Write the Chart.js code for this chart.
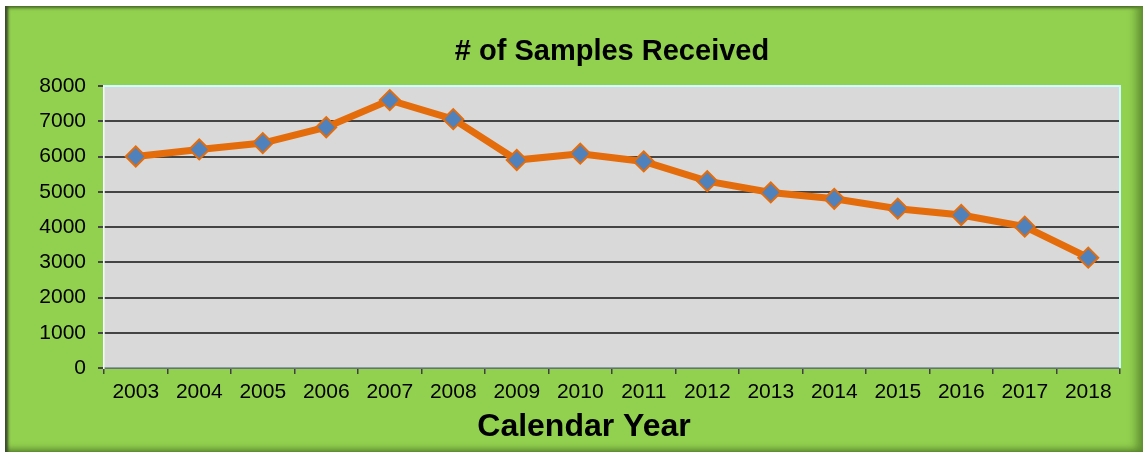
<!DOCTYPE html>
<html>
<head>
<meta charset="utf-8">
<script src="https://cdn.jsdelivr.net/npm/chart.js@4"></script>
<style>
    html, body { margin: 0; padding: 0; background: #fff; }
    body { width: 1143px; height: 452px; position: relative; overflow: hidden; }
    #panel {
        position: absolute; left: 5px; top: 6px; width: 1138px; height: 446px;
        background: #92d050;
        box-shadow: inset 4px 0 3px -1px #3a4a2a, inset -10px 0 10px -4px #5f8d30, inset 0 -6px 6px -3px #5f8d30, inset 0 3px 3px -1px #4d6e2a;
    }
    #chart { position: absolute; left: 0; top: 0; }
</style>
</head>
<body>
<div id="panel"><canvas id="chart" width="1138" height="446"></canvas></div>
<script>
const years = ['2003', '2004', '2005', '2006', '2007', '2008', '2009', '2010',
               '2011', '2012', '2013', '2014', '2015', '2016', '2017', '2018'];
const samples = [6000, 6200, 6380, 6830, 7600, 7060, 5900, 6080,
                 5860, 5300, 4980, 4800, 4520, 4340, 4010, 3130];
const chartTitle = '# of Samples Received';
const xTitle = 'Calendar Year';

// grey plot area with a thin light frame, like the spreadsheet chart
const plotBg = {
    id: 'plotBg',
    beforeDraw(chart) {
        const { ctx, chartArea: a } = chart;
        ctx.save();
        ctx.fillStyle = '#d9d9d9';
        ctx.fillRect(a.left, a.top, a.right - a.left, a.bottom - a.top);
        ctx.restore();
    },
    afterDatasetsDraw(chart) {
        const { ctx, chartArea: a } = chart;
        ctx.save();
        ctx.strokeStyle = '#ccffff';
        ctx.lineWidth = 2;
        ctx.beginPath();
        ctx.moveTo(a.left, a.top);
        ctx.lineTo(a.right, a.top);
        ctx.lineTo(a.right, a.bottom);
        ctx.stroke();
        ctx.restore();
    }
};

// titles sit off-centre in the original, so they are placed by hand
const titles = {
    id: 'titles',
    afterDraw(chart) {
        const { ctx, chartArea: a } = chart;
        ctx.save();
        ctx.fillStyle = '#000';
        ctx.textAlign = 'center';
        ctx.textBaseline = 'middle';
        ctx.font = 'bold 29px Arial, "Liberation Sans", sans-serif';
        ctx.fillText(chartTitle, (a.left + a.right) / 2, 46);
        ctx.font = 'bold 32px Arial, "Liberation Sans", sans-serif';
        ctx.fillText(xTitle, a.left + 480, 421);
        ctx.restore();
    }
};

Chart.defaults.font.family = 'Arial, "Liberation Sans", sans-serif';
Chart.defaults.color = '#000';

new Chart(document.getElementById('chart'), {
    type: 'line',
    data: {
        labels: years,
        datasets: [{
            data: samples,
            borderColor: '#e46c0a',
            borderWidth: 7,
            tension: 0,
            pointStyle: 'rectRot',
            pointRadius: 10,
            pointHoverRadius: 10,
            pointBackgroundColor: '#4f81bd',
            pointBorderColor: '#e46c0a',
            pointBorderWidth: 2
        }]
    },
    options: {
        responsive: false,
        animation: false,
        layout: { padding: { top: 80, right: 23, bottom: 0, left: 0 } },
        plugins: {
            legend: { display: false },
            tooltip: { enabled: false },
            title: { display: false }
        },
        scales: {
            x: {
                offset: true,
                grid: { offset: true, drawOnChartArea: false, drawTicks: true, tickLength: 6, color: '#404040', lineWidth: 1.5 },
                border: { color: '#8aa0a0', width: 1.5 },
                ticks: { font: { size: 21 }, color: '#000', padding: 6, maxRotation: 0 },
                afterFit(scale) { scale.height = 84; }
            },
            y: {
                min: 0,
                max: 8000,
                ticks: { stepSize: 1000, font: { size: 21 }, color: '#000', padding: 12, callback: v => String(v) },
                grid: { color: '#444', lineWidth: 2, tickLength: 6 },
                border: { color: '#f4ffff', width: 1.5 },
                afterFit(scale) { scale.width = 99; }
            }
        }
    },
    plugins: [plotBg, titles]
});
</script>
</body>
</html>
